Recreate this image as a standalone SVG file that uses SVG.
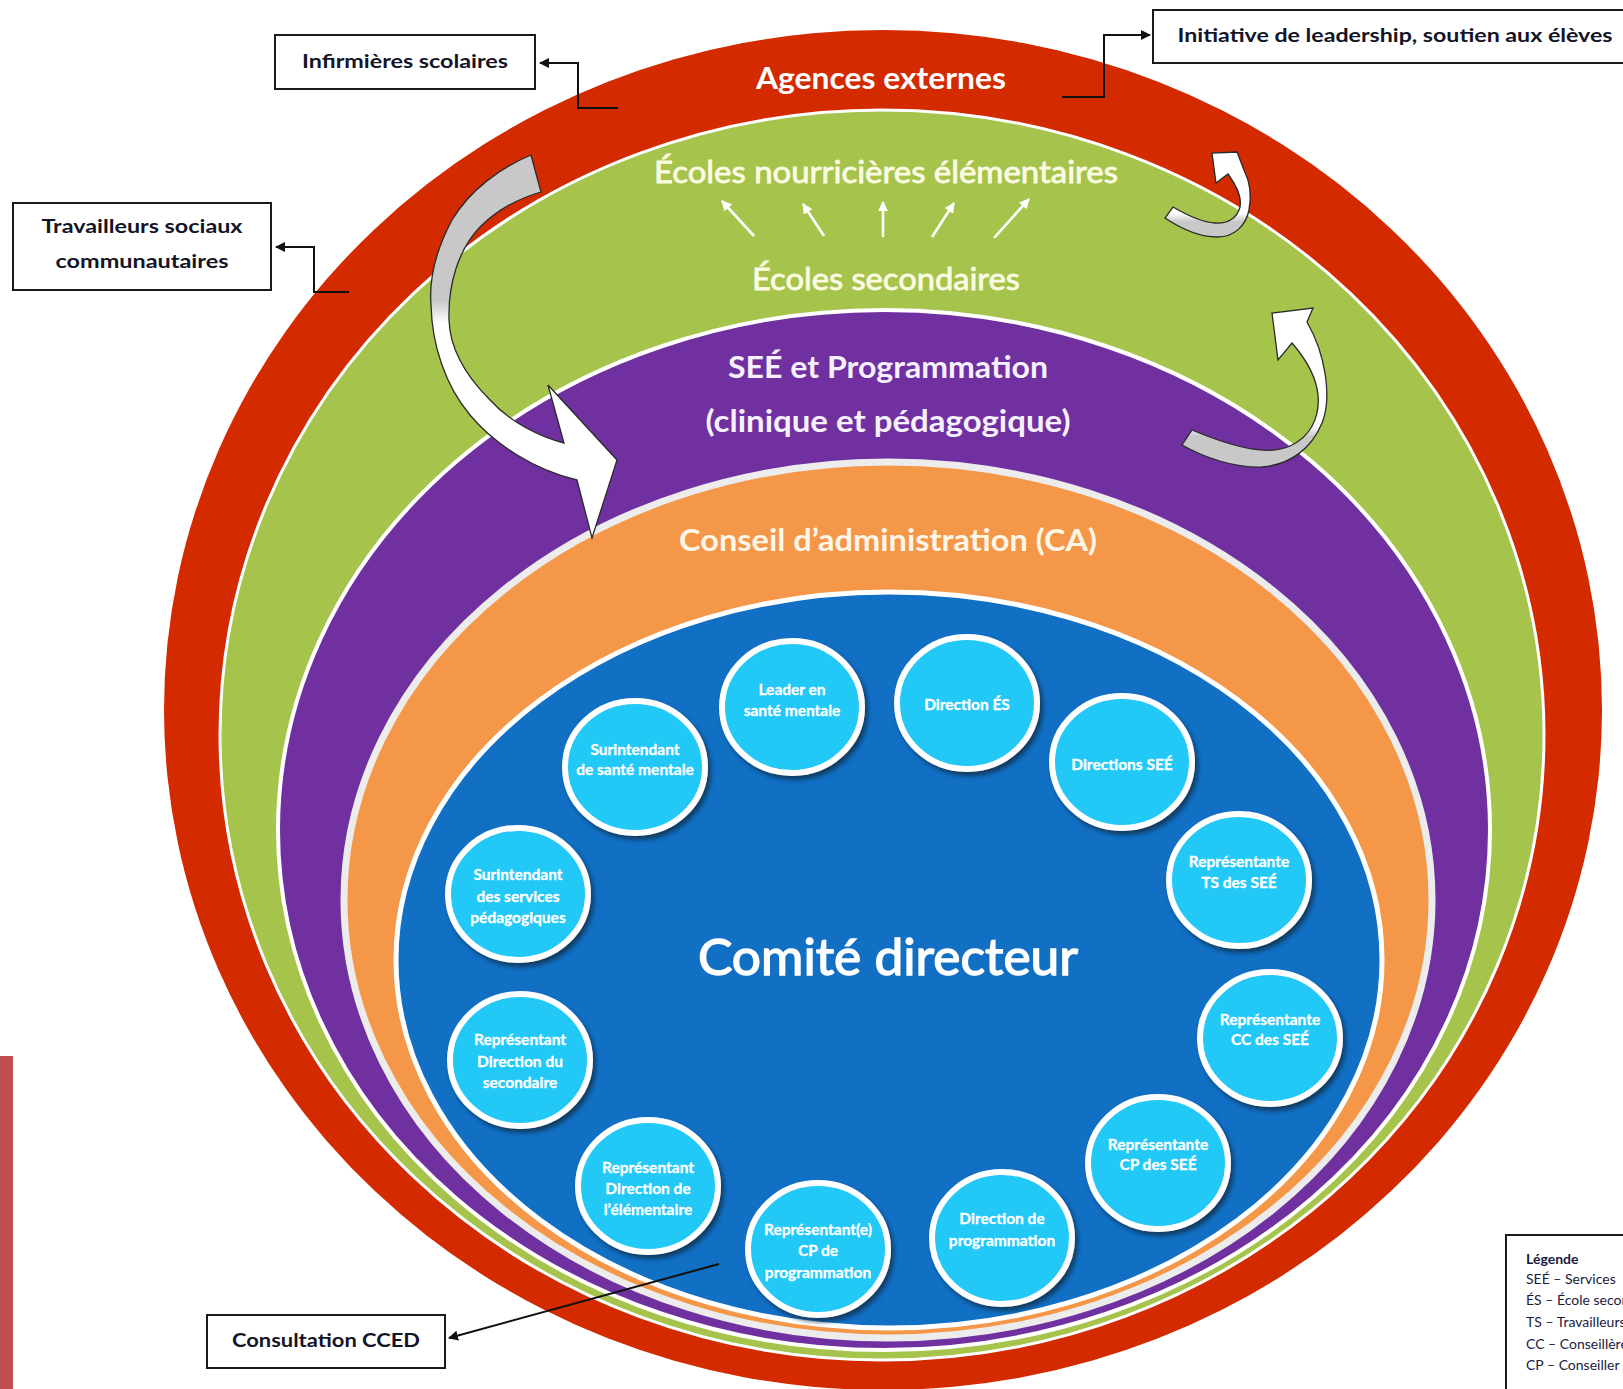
<svg xmlns="http://www.w3.org/2000/svg" width="1623" height="1389" viewBox="0 0 1623 1389">
<defs>
<style>
.ring{stroke-linejoin:round}
.lbl{font-family:Lato,"Open Sans","Liberation Sans",sans-serif;text-anchor:middle}
.big{font-weight:bold;fill:#ffffff}
.ctext{font-family:Lato,"Open Sans","Liberation Sans",sans-serif;font-weight:bold;font-size:15.5px;fill:#ffffff;text-anchor:middle;stroke:#ffffff;stroke-width:0.3}
.node{fill:#22c8f6;stroke:#ffffff;stroke-width:6}
.box{fill:#ffffff;stroke:#1a1a1a;stroke-width:2}
.btext{font-family:Lato,"Open Sans","Liberation Sans",sans-serif;font-weight:bold;font-size:18px;fill:#141428;text-anchor:middle}
.conn{fill:none;stroke:#111111;stroke-width:2}
.warrow{fill:none;stroke:#ffffff;stroke-width:2.6}
.curv{stroke:#2a2a2a;stroke-width:1.3;stroke-linejoin:miter}
.leg{font-family:Lato,"Open Sans","Liberation Sans",sans-serif;font-size:14px;fill:#1a1a40}
</style>
<marker id="ah" viewBox="0 0 10 10" refX="9" refY="5" markerWidth="5" markerHeight="5" orient="auto" markerUnits="strokeWidth">
<path d="M0,0 L10,5 L0,10 z" fill="#111111"/>
</marker>
<marker id="wh" viewBox="0 0 10 10" refX="9" refY="5" markerWidth="4" markerHeight="4" orient="auto" markerUnits="strokeWidth">
<path d="M0,0 L10,5 L0,10 z" fill="#ffffff"/>
</marker>
<filter id="sh" x="-20%" y="-20%" width="150%" height="150%">
<feDropShadow dx="3" dy="4" stdDeviation="2" flood-color="#0d3048" flood-opacity="0.8"/>
</filter>
<linearGradient id="gA" gradientUnits="userSpaceOnUse" x1="0" y1="155" x2="0" y2="538">
<stop offset="0" stop-color="#c8c8c8"/><stop offset="0.38" stop-color="#c8c8c8"/><stop offset="0.44" stop-color="#ffffff"/><stop offset="1" stop-color="#ffffff"/>
</linearGradient>
<linearGradient id="gB" gradientUnits="userSpaceOnUse" x1="0" y1="240" x2="0" y2="150">
<stop offset="0" stop-color="#c8c8c8"/><stop offset="0.2" stop-color="#c8c8c8"/><stop offset="0.3" stop-color="#ffffff"/><stop offset="1" stop-color="#ffffff"/>
</linearGradient>
<linearGradient id="gC" gradientUnits="userSpaceOnUse" x1="0" y1="470" x2="0" y2="305">
<stop offset="0" stop-color="#c8c8c8"/><stop offset="0.2" stop-color="#c8c8c8"/><stop offset="0.27" stop-color="#ffffff"/><stop offset="1" stop-color="#ffffff"/>
</linearGradient>
</defs>
<rect width="1623" height="1389" fill="#ffffff"/>
<rect x="0" y="1056" width="13" height="333" fill="#c0504d"/>

<g id="ring-agences">
<ellipse class="ring" cx="883" cy="710" rx="719" ry="680" fill="#d42a00"/>
</g>
<g id="ring-ecoles">
<ellipse class="ring" cx="882" cy="735" rx="662" ry="625" fill="#a6c34b" stroke="#ffffff" stroke-width="3"/>
</g>
<g id="ring-see">
<ellipse class="ring" cx="884" cy="830" rx="606" ry="520" fill="#7030a0" stroke="#ffffff" stroke-width="4"/>
</g>
<g id="ring-ca">
<ellipse class="ring" cx="888" cy="900" rx="544" ry="438" fill="#f59748" stroke="#ececec" stroke-width="7"/>
</g>
<g id="ring-comite">
<ellipse class="ring" cx="889" cy="960" rx="493" ry="368" fill="#116fc4" stroke="#ffffff" stroke-width="5"/>
</g>

<g id="labels">
<text class="lbl big" x="881" y="89" font-size="30" textLength="250" lengthAdjust="spacingAndGlyphs">Agences externes</text>
<text class="lbl" x="886" y="183" font-size="30" fill="#fbfbe2" stroke="#fbfbe2" stroke-width="0.8" textLength="464" lengthAdjust="spacingAndGlyphs">Écoles nourricières élémentaires</text>
<text class="lbl" x="886" y="290" font-size="30" fill="#fbfbe2" stroke="#fbfbe2" stroke-width="0.8" textLength="268" lengthAdjust="spacingAndGlyphs">Écoles secondaires</text>
<text class="lbl" x="888" y="378" font-size="30" fill="#f6f0ff" font-weight="bold" textLength="320" lengthAdjust="spacingAndGlyphs">SEÉ et Programmation</text>
<text class="lbl" x="888" y="432" font-size="30" fill="#f6f0ff" font-weight="bold" textLength="365" lengthAdjust="spacingAndGlyphs">(clinique et pédagogique)</text>
<text class="lbl" x="888" y="551" font-size="30" fill="#fff6e8" font-weight="bold" textLength="418" lengthAdjust="spacingAndGlyphs">Conseil d’administration (CA)</text>
<text class="lbl" x="888" y="975" font-size="50" fill="#ffffff" stroke="#ffffff" stroke-width="1.4" textLength="380" lengthAdjust="spacingAndGlyphs">Comité directeur</text>
</g>

<g id="node-leader" transform="translate(792,707)">
<ellipse class="node" rx="70" ry="66" filter="url(#sh)"/>
<text class="ctext" y="-12">Leader en</text><text class="ctext" y="9">santé mentale</text>
</g>
<g id="node-direction-es" transform="translate(967,703)">
<ellipse class="node" rx="70" ry="66" filter="url(#sh)"/>
<text class="ctext" y="7">Direction ÉS</text>
</g>
<g id="node-surintendant-sante" transform="translate(635,767)">
<ellipse class="node" rx="70" ry="66" filter="url(#sh)"/>
<text class="ctext" y="-12">Surintendant</text><text class="ctext" y="8">de santé mentale</text>
</g>
<g id="node-directions-see" transform="translate(1122,762)">
<ellipse class="node" rx="70" ry="66" filter="url(#sh)"/>
<text class="ctext" y="8">Directions SEÉ</text>
</g>
<g id="node-surintendant-peda" transform="translate(518,894)">
<ellipse class="node" rx="70" ry="66" filter="url(#sh)"/>
<text class="ctext" y="-14">Surintendant</text><text class="ctext" y="8">des services</text><text class="ctext" y="29">pédagogiques</text>
</g>
<g id="node-ts" transform="translate(1239,880)">
<ellipse class="node" rx="70" ry="66" filter="url(#sh)"/>
<text class="ctext" y="-13">Représentante</text><text class="ctext" y="8">TS des SEÉ</text>
</g>
<g id="node-dir-sec" transform="translate(520,1060)">
<ellipse class="node" rx="70" ry="66" filter="url(#sh)"/>
<text class="ctext" y="-15">Représentant</text><text class="ctext" y="7">Direction du</text><text class="ctext" y="28">secondaire</text>
</g>
<g id="node-cc" transform="translate(1270,1038)">
<ellipse class="node" rx="70" ry="66" filter="url(#sh)"/>
<text class="ctext" y="-13">Représentante</text><text class="ctext" y="7">CC des SEÉ</text>
</g>
<g id="node-dir-elem" transform="translate(648,1186)">
<ellipse class="node" rx="70" ry="66" filter="url(#sh)"/>
<text class="ctext" y="-13">Représentant</text><text class="ctext" y="8">Direction de</text><text class="ctext" y="29">l’élémentaire</text>
</g>
<g id="node-cp-see" transform="translate(1158,1163)">
<ellipse class="node" rx="70" ry="66" filter="url(#sh)"/>
<text class="ctext" y="-13">Représentante</text><text class="ctext" y="7">CP des SEÉ</text>
</g>
<g id="node-cp-prog" transform="translate(818,1249)">
<ellipse class="node" rx="70" ry="66" filter="url(#sh)"/>
<text class="ctext" y="-14">Représentant(e)</text><text class="ctext" y="7">CP de</text><text class="ctext" y="29">programmation</text>
</g>
<g id="node-dir-prog" transform="translate(1002,1238)">
<ellipse class="node" rx="70" ry="66" filter="url(#sh)"/>
<text class="ctext" y="-14">Direction de</text><text class="ctext" y="8">programmation</text>
</g>

<g id="box-infirmieres">
<rect class="box" x="275" y="35" width="260" height="54"/>
<text class="btext" x="405" y="68" textLength="206" lengthAdjust="spacingAndGlyphs">Infirmières scolaires</text>
</g>
<g id="box-travailleurs">
<rect class="box" x="13" y="203" width="258" height="87"/>
<text class="btext" x="142" y="233" textLength="201" lengthAdjust="spacingAndGlyphs">Travailleurs sociaux</text>
<text class="btext" x="142" y="268" textLength="173" lengthAdjust="spacingAndGlyphs">communautaires</text>
</g>
<g id="box-initiative">
<rect class="box" x="1153" y="10" width="480" height="53"/>
<text class="btext" x="1395" y="42" textLength="435" lengthAdjust="spacingAndGlyphs">Initiative de leadership, soutien aux élèves</text>
</g>
<g id="box-cced">
<rect class="box" x="207" y="1315" width="238" height="53"/>
<text class="btext" x="326" y="1347" textLength="188" lengthAdjust="spacingAndGlyphs">Consultation CCED</text>
</g>
<g id="legend">
<rect class="box" x="1506" y="1235" width="130" height="170"/>
<text class="leg" x="1526" y="1264" font-weight="bold" font-size="15">Légende</text>
<text class="leg" x="1526" y="1284">SEÉ – Services</text>
<text class="leg" x="1526" y="1305">ÉS – École secondaire</text>
<text class="leg" x="1526" y="1327">TS – Travailleurs</text>
<text class="leg" x="1526" y="1349">CC – Conseillère</text>
<text class="leg" x="1526" y="1370">CP – Conseiller</text>
</g>

<g id="connectors">
<polyline class="conn" points="618,108 578,108 578,63 540,63" marker-end="url(#ah)"/>
<polyline class="conn" points="349,292 314,292 314,247 276,247" marker-end="url(#ah)"/>
<polyline class="conn" points="1062,97 1104,97 1104,35 1150,35" marker-end="url(#ah)"/>
<line class="conn" x1="719" y1="1264" x2="449" y2="1338" marker-end="url(#ah)"/>
<line class="warrow" x1="754" y1="236" x2="722" y2="201" marker-end="url(#wh)"/>
<line class="warrow" x1="824" y1="236" x2="803" y2="204" marker-end="url(#wh)"/>
<line class="warrow" x1="883" y1="237" x2="883" y2="202" marker-end="url(#wh)"/>
<line class="warrow" x1="932" y1="237" x2="954" y2="203" marker-end="url(#wh)"/>
<line class="warrow" x1="994" y1="238" x2="1029" y2="199" marker-end="url(#wh)"/>
<path class="curv" fill="url(#gA)" d="M531,155 C500,168 470,190 452,220 C436,250 429,280 431,305 C432,345 445,385 470,415 C495,445 535,470 577,480 L592,538 L617,460 L548,385 L564,443 C540,437 510,422 490,400 C468,378 450,352 449,320 C448,285 458,250 480,227 C497,210 520,198 541,192 Z"/>
<path class="curv" fill="url(#gB)" d="M1165,218 C1180,228 1200,237 1217,237 C1235,237 1246,225 1249,210 C1252,195 1249,180 1244,170 L1237,152 L1212,153 L1216,183 L1228,174 C1236,185 1242,197 1240,207 C1237,218 1228,224 1215,223 C1200,222 1185,214 1173,207 Z"/>
<path class="curv" fill="url(#gC)" d="M1182,445 C1205,458 1235,468 1262,467 C1290,465 1312,448 1322,423 C1332,398 1326,355 1307,322 L1313,308 L1272,313 L1278,360 L1292,343 C1305,358 1316,375 1318,395 C1320,418 1310,437 1290,446 C1270,455 1240,450 1192,430 Z"/>
</g>
</svg>
